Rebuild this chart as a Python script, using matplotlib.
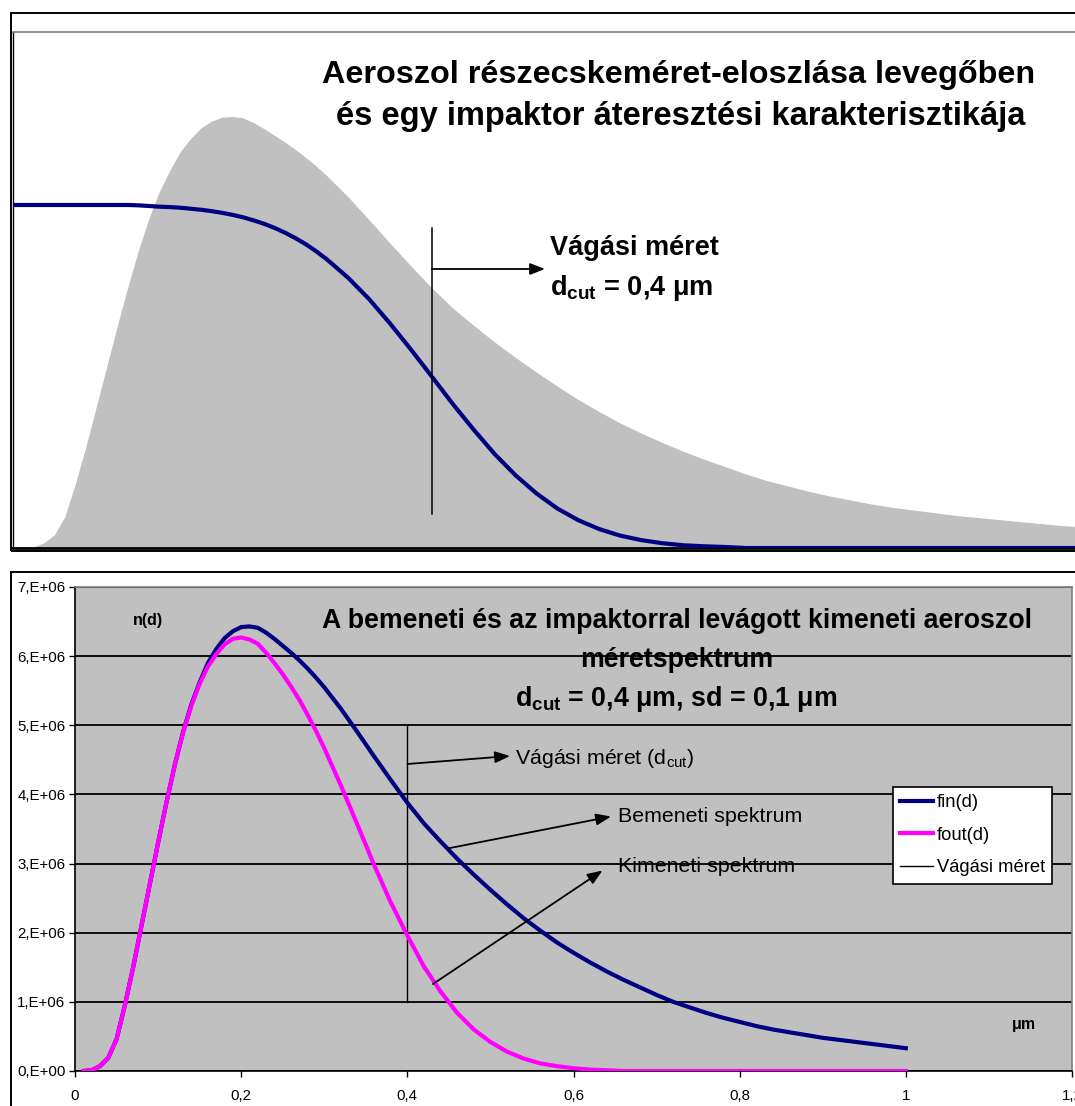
import matplotlib
matplotlib.use("Agg")
import matplotlib.pyplot as plt
from matplotlib.patches import Rectangle

plt.rcParams['font.family'] = ['Liberation Sans', 'DejaVu Sans']
plt.rcParams['mathtext.fontset'] = 'custom'
plt.rcParams['mathtext.rm'] = 'Liberation Sans'
plt.rcParams['mathtext.bf'] = 'Liberation Sans:bold'
plt.rcParams['mathtext.it'] = 'Liberation Sans:italic'

# ---------------- data ----------------
d_cut = 0.4
sd = 0.1

d = [0.0, 0.01, 0.02, 0.03, 0.04, 0.05, 0.06, 0.07, 0.08, 0.09,
     0.10, 0.11, 0.12, 0.13, 0.14, 0.15, 0.16, 0.17, 0.18, 0.19,
     0.20, 0.21, 0.22, 0.23, 0.24, 0.25, 0.26, 0.27, 0.28, 0.29,
     0.30, 0.32, 0.34, 0.36, 0.38, 0.40, 0.42, 0.44, 0.46, 0.48,
     0.50, 0.52, 0.54, 0.56, 0.58, 0.60, 0.62, 0.64, 0.66, 0.68,
     0.70, 0.72, 0.74, 0.76, 0.78, 0.80, 0.82, 0.84, 0.86, 0.88,
     0.90, 0.92, 0.94, 0.96, 0.98, 1.00]

# input spectrum fin(d), in units of 1e6
fin_m = [0.00, 0.00, 0.01, 0.07, 0.19, 0.46, 0.95, 1.50, 2.10, 2.70,
         3.30, 3.88, 4.42, 4.90, 5.30, 5.62, 5.90, 6.10, 6.26, 6.36,
         6.42, 6.43, 6.41, 6.34, 6.25, 6.15, 6.05, 5.94, 5.82, 5.69,
         5.55, 5.24, 4.90, 4.55, 4.21, 3.88, 3.58, 3.32, 3.07, 2.84,
         2.62, 2.41, 2.21, 2.03, 1.86, 1.71, 1.57, 1.44, 1.32, 1.21,
         1.10, 1.00, 0.92, 0.84, 0.77, 0.71, 0.65, 0.60, 0.56, 0.52,
         0.48, 0.45, 0.42, 0.39, 0.36, 0.33]

# output spectrum fout(d), in units of 1e6
fout_m = [0.00, 0.00, 0.01, 0.07, 0.19, 0.46, 0.95, 1.50, 2.10, 2.70,
          3.30, 3.88, 4.42, 4.89, 5.28, 5.60, 5.85, 6.03, 6.17, 6.25,
          6.27, 6.24, 6.18, 6.05, 5.90, 5.74, 5.56, 5.37, 5.15, 4.92,
          4.67, 4.13, 3.56, 2.98, 2.44, 1.96, 1.51, 1.15, 0.84, 0.60,
          0.42, 0.28, 0.18, 0.11, 0.07, 0.04, 0.02, 0.01, 0.00, 0.00,
          0.00, 0.00, 0.00, 0.00, 0.00, 0.00, 0.00, 0.00, 0.00, 0.00,
          0.00, 0.00, 0.00, 0.00, 0.00, 0.00]

# impactor penetration curve (top chart)
pen = [1.000, 1.000, 1.000, 1.000, 1.000, 1.000, 1.000, 1.000, 1.000, 1.000,
       1.000, 1.000, 0.999, 0.997, 0.995, 0.994, 0.992, 0.989, 0.986, 0.982,
       0.977, 0.971, 0.964, 0.955, 0.945, 0.933, 0.919, 0.903, 0.885, 0.864,
       0.841, 0.788, 0.726, 0.655, 0.579, 0.500, 0.420, 0.345, 0.274, 0.212,
       0.159, 0.115, 0.081, 0.055, 0.036, 0.023, 0.014, 0.008, 0.005, 0.003,
       0.000, 0.000, 0.000, 0.000, 0.000, 0.000, 0.000, 0.000, 0.000, 0.000,
       0.000, 0.000, 0.000, 0.000, 0.000, 0.000]

# tail of the distribution visible only in the top chart
d_tail = [1.02, 1.04, 1.06]
fin_tail_m = [0.31, 0.29, 0.27]
pen_tail = [0.0, 0.0, 0.0]

y_ticks = [0, 1e6, 2e6, 3e6, 4e6, 5e6, 6e6, 7e6]
y_labels = ["0,E+00", "1,E+06", "2,E+06", "3,E+06", "4,E+06", "5,E+06", "6,E+06", "7,E+06"]
x_ticks = [0, 0.2, 0.4, 0.6, 0.8, 1.0, 1.2]
x_labels = ["0", "0,2", "0,4", "0,6", "0,8", "1", "1,2"]

fin = [v * 1e6 for v in fin_m]
fout = [v * 1e6 for v in fout_m]
d_top = d + d_tail
fin_top = fin + [v * 1e6 for v in fin_tail_m]
pen_top = pen + pen_tail

# ---------------- figure ----------------
W, H = 1075, 1106
fig = plt.figure(figsize=(W / 100, H / 100), dpi=100)


def fx(px):
    return px / W


def fy(py):
    return 1 - py / H


NAVY = '#000080'
MAG = '#FF00FF'
GRAY = '#C0C0C0'

# chart-area borders
fig.patches.append(Rectangle((fx(11), fy(551)), fx(1100) - fx(11), fy(13) - fy(551),
                             transform=fig.transFigure, fill=False, ec='black', lw=1.4))
fig.patches.append(Rectangle((fx(11), fy(1130)), fx(1100) - fx(11), fy(572) - fy(1130),
                             transform=fig.transFigure, fill=False, ec='black', lw=1.4))

# ---------------- top chart ----------------
L, T, B = 13, 32, 548
kx = 1047.0
xmax_top = 1.06
axt = fig.add_axes([fx(L), fy(B), xmax_top * kx / W, (B - T) / H])
axt.set_xlim(0, xmax_top)
axt.set_ylim(0, 6.43e6 * (B - T) / (B - 117))
axt.fill_between(d_top, fin_top, 0, color=GRAY, lw=0)
axt.set_xticks([])
axt.set_yticks([])
axt.spines['right'].set_visible(False)
axt.spines['top'].set_color('#808080')
axt.spines['top'].set_linewidth(1.2)
axt.spines['left'].set_color('black')
axt.spines['left'].set_linewidth(1.0)
axt.spines['bottom'].set_color('black')
axt.spines['bottom'].set_linewidth(2.0)

axp = axt.twinx()
axp.set_ylim(0, (B - T) / (B - 205))
axp.set_xlim(0, xmax_top)
axp.plot(d_top, pen_top, color=NAVY, lw=3.0, solid_capstyle='butt')
axp.set_yticks([])
for s in axp.spines.values():
    s.set_visible(False)


def pyp(py):
    return (B - py) / (B - 205)


def pxt(px):
    return (px - L) / kx


axp.plot([d_cut, d_cut], [pyp(514), pyp(228)], color='black', lw=1.1)
axp.annotate('', xy=(pxt(545), pyp(269)), xytext=(d_cut, pyp(269)),
             arrowprops=dict(arrowstyle='-|>,head_length=0.9,head_width=0.35',
                             color='black', lw=1.3, shrinkA=0, shrinkB=0))
axp.text(pxt(550), pyp(248), 'Vágási méret', fontsize=19.5, fontweight='bold',
         ha='left', va='center')
axp.text(pxt(550), pyp(288), 'd$_{\\mathbf{cut}}$ = 0,4 μm', fontsize=19.5, fontweight='bold',
         ha='left', va='center')

fig.text(fx(679), fy(75), 'Aeroszol részecskeméret-eloszlása levegőben', fontsize=23.3,
         fontweight='bold', ha='center', va='center')
fig.text(fx(681), fy(117), 'és egy impaktor áteresztési karakterisztikája', fontsize=23.5,
         fontweight='bold', ha='center', va='center')

# ---------------- bottom chart ----------------
BL, BR, BT, BB = 75, 1072, 587, 1071
axb = fig.add_axes([fx(BL), fy(BB), (BR - BL) / W, (BB - BT) / H])
axb.set_facecolor(GRAY)
axb.set_xlim(0, 1.2)
axb.set_ylim(0, 7e6)
axb.set_axisbelow(True)
axb.set_yticks(y_ticks)
axb.set_yticklabels(y_labels)
axb.set_xticks(x_ticks)
axb.set_xticklabels(x_labels)
axb.grid(axis='y', color='black', lw=1.3)
axb.tick_params(axis='both', direction='out', length=4, width=1, labelsize=10.8, color='black')
axb.tick_params(axis='x', pad=9)
axb.tick_params(axis='y', pad=3)
axb.spines['top'].set_color('#808080')
axb.spines['right'].set_color('#808080')
axb.spines['left'].set_color('black')
axb.spines['bottom'].set_color('black')
for s in axb.spines.values():
    s.set_linewidth(1.2)

l_fin, = axb.plot(d[1:], fin[1:], color=NAVY, lw=3.0, label='fin(d)', zorder=3)
l_fout, = axb.plot(d[1:], fout[1:], color=MAG, lw=3.0, label='fout(d)', zorder=4)
l_cut, = axb.plot([d_cut, d_cut], [1e6, 5e6], color='black', lw=1.0, label='Vágási méret', zorder=2)


def bx(px):
    return (px - BL) / (BR - BL) * 1.2


def by(py):
    return (BB - py) / (BB - BT) * 7e6


arrow = dict(arrowstyle='-|>,head_length=0.9,head_width=0.35', color='black', lw=1.3,
             shrinkA=0, shrinkB=0)
axb.annotate('', xy=(bx(510), by(756)), xytext=(d_cut, by(764)), arrowprops=arrow, zorder=5)
axb.annotate('', xy=(bx(611), by(816.5)), xytext=(bx(447.5), by(848.5)), arrowprops=arrow, zorder=5)
axb.annotate('', xy=(bx(602.5), by(870.5)), xytext=(bx(433), by(984)), arrowprops=arrow, zorder=5)

axb.text(bx(515), by(758), 'Vágási méret (d$_{\\mathrm{cut}}$)', fontsize=15.4, ha='left', va='center')
axb.text(bx(618), by(816), 'Bemeneti spektrum', fontsize=15.4, ha='left', va='center')
axb.text(bx(618), by(866), 'Kimeneti spektrum', fontsize=15.4, ha='left', va='center')

axb.text(bx(148), by(621), 'n(d)', fontsize=11.5, fontweight='bold', ha='center', va='center')
axb.text(bx(1024), by(1024), 'μm', fontsize=11.5, fontweight='bold', ha='center', va='center')

axb.text(bx(677), by(621), 'A bemeneti és az impaktorral levágott kimeneti aeroszol',
         fontsize=19.3, fontweight='bold', ha='center', va='center')
axb.text(bx(677), by(660), 'méretspektrum', fontsize=19.3, fontweight='bold', ha='center', va='center')
axb.text(bx(676), by(699), 'd$_{\\mathbf{cut}}$ = 0,4 μm, sd = 0,1 μm', fontsize=19.3,
         fontweight='bold', ha='center', va='center')

leg = axb.legend(handles=[l_fin, l_fout, l_cut], loc='upper left',
                 bbox_to_anchor=(fx(893), fy(787)), bbox_transform=fig.transFigure,
                 borderaxespad=0, fontsize=13.2, frameon=True, fancybox=False,
                 edgecolor='black', facecolor='white', framealpha=1,
                 handlelength=1.8, handletextpad=0.2, labelspacing=0.85,
                 borderpad=0.4)
leg.get_frame().set_linewidth(1.2)
leg.set_zorder(10)

fig.savefig('out.png', dpi=100)
